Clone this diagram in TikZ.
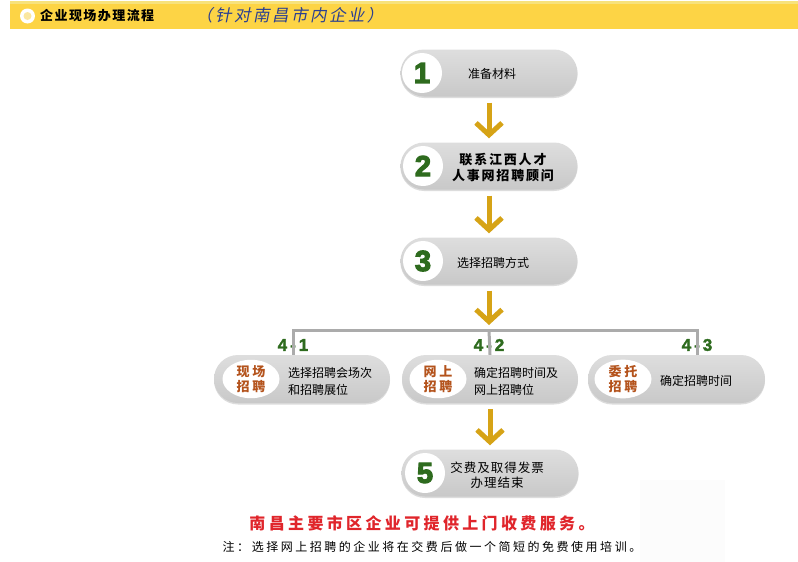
\documentclass[tikz,border=0pt]{standalone}
\usepackage{fontspec}
\usetikzlibrary{arrows.meta,shadows,shapes.geometric}
\newfontfamily\cjk{Noto Sans CJK SC}
\newfontfamily\cjkslant{Noto Sans CJK SC}[FakeSlant=0.2]
\newfontfamily\numfont{Liberation Sans}[BoldFeatures={FakeBold=4}]
\newfontfamily\subfont{Liberation Sans}[BoldFeatures={FakeBold=2}]
\definecolor{hdr}{HTML}{FDD445}
\definecolor{hdrtop}{HTML}{F7E27C}
\definecolor{iconin}{HTML}{FBE7A0}
\definecolor{hblue}{HTML}{2B3F91}
\definecolor{pillc}{HTML}{DADADA}
\definecolor{numg}{HTML}{2E6B1E}
\definecolor{gold}{HTML}{D6A316}
\definecolor{lgray}{HTML}{ABABAB}
\definecolor{orng}{HTML}{B4531C}
\definecolor{redt}{HTML}{E0252B}
\definecolor{faint}{HTML}{FCFCFC}
\tikzset{
  pill/.style={rectangle, rounded corners=23.5pt, minimum width=177pt, minimum height=47pt,
    inner sep=0pt, top color=pillc!90!white, bottom color=pillc!92!black,
    drop shadow={shadow xshift=0pt, shadow yshift=-1.5pt, fill=black!30, opacity=0.45}},
  numcirc/.style={circle, fill=white, minimum size=40pt, inner sep=0pt,
    font=\numfont\bfseries\fontsize{29}{29}\selectfont, text=numg},
  labell/.style={ellipse, fill=white, minimum width=57pt, minimum height=38pt, inner sep=0pt,
    font=\cjk\bfseries\fontsize{13}{15}\selectfont, text=orng, align=center},
  ptext/.style={font=\cjk\fontsize{12}{15}\selectfont, inner sep=0pt, align=center},
  ptextb/.style={font=\cjk\bfseries\addfontfeatures{LetterSpace=14}\fontsize{13}{16}\selectfont, inner sep=0pt, align=center},
  desc/.style={font=\cjk\fontsize{12}{17}\selectfont, inner sep=0pt, align=left, anchor=west},
  flowarrow/.style={draw=gold, line width=5pt, -{Straight Barb[length=12pt,width=26pt]}},
  branchline/.style={draw=lgray, line width=3pt},
  sublabel/.style={font=\subfont\bfseries\fontsize{17}{17}\selectfont, text=numg, inner sep=0pt}
}
\begin{document}
\begin{tikzpicture}[x=1pt,y=-1pt]
\useasboundingbox (0,0) rectangle (798,562);
\fill[white] (0,0) rectangle (798,562);
% header
\fill[hdr] (10,1) rectangle (798,29);
\fill[hdrtop] (10,1) rectangle (798,3.5);
\node[circle, fill=white, minimum size=15pt, inner sep=0pt] (ic) at (27.5,16) {};
\node[circle, fill=iconin, minimum size=8pt, inner sep=0pt] (ici) at (ic.center) {};
\node[anchor=west, inner sep=0pt, font=\cjk\bfseries\addfontfeatures{LetterSpace=11}\fontsize{13}{13}\selectfont] (h1) at (40,16) {企业现场办理流程};
\node[anchor=west, inner sep=0pt, text=hblue, font=\cjkslant\addfontfeatures{LetterSpace=15}\fontsize{16.5}{17}\selectfont] (h2) at (196,15) {（针对南昌市内企业）};
% faint patch
\fill[faint] (640,480) rectangle (725,562);
% main pills
\node[pill] (p1) at (489,73) {};
\node[pill] (p2) at (489,166) {};
\node[pill] (p3) at (489,261) {};
\node[pill] (p5) at (490,473) {};
\node[pill, minimum width=176pt, minimum height=48pt, rounded corners=24pt] (p41) at (302,379) {};
\node[pill, minimum width=176pt, minimum height=48pt, rounded corners=24pt] (p42) at (490,379) {};
\node[pill, minimum width=177pt, minimum height=48pt, rounded corners=24pt] (p43) at (676.5,379) {};
% numbers
\node[numcirc] (n1) at (422,73) {1};
\node[numcirc] (n2) at (423,166) {2};
\node[numcirc] (n3) at (423,261) {3};
\node[numcirc] (n5) at (425,473) {5};
% pill texts
\node[ptext] (t1) at (492,74) {准备材料};
\node[ptextb] (t2) at (503,168) {联系江西人才\\人事网招聘顾问};
\node[ptext] (t3) at (493,263) {选择招聘方式};
\node[ptextb, font=\cjk\addfontfeatures{LetterSpace=8}\fontsize{12.5}{15}\selectfont] (t5) at (497,475) {交费及取得发票\\办理结束};
% sub labels
\node[labell] (e41) at (251,379) {现\hspace{3pt}场\\招\hspace{3pt}聘};
\node[labell] (e42) at (438,379) {网\hspace{3pt}上\\招\hspace{3pt}聘};
\node[labell] (e43) at (623,379) {委\hspace{3pt}托\\招\hspace{3pt}聘};
\node[desc] (d41) at (288,381) {选择招聘会场次\\和招聘展位};
\node[desc] (d42) at (474,381) {确定招聘时间及\\网上招聘位};
\node[desc] (d43) at (660,381) {确定招聘时间};
% branch
\coordinate (b41) at (293,330);
\coordinate (b42) at (489,330);
\coordinate (b43) at (697,330);
\node[sublabel] (l41) at (293,345) {4\hspace{3pt}-\hspace{3pt}1};
\node[sublabel] (l42) at (489,345) {4\hspace{3pt}-\hspace{3pt}2};
\node[sublabel] (l43) at (697,345) {4\hspace{3pt}-\hspace{3pt}3};
\draw[branchline] (b41 |- p41.north) -- (b41) -- (b43) -- (b43 |- p43.north);
\draw[branchline] (b42) -- (p42.north);
% arrows
\draw[flowarrow, shorten <=6pt, shorten >=4pt] (p1.south) -- (p2.north);
\draw[flowarrow, shorten <=6pt, shorten >=4pt] (p2.south) -- (p3.north);
\draw[flowarrow, shorten <=6pt, shorten >=5pt] (p3.south) -- (b42);
\draw[flowarrow, shorten <=6pt, shorten >=4pt] (p42.south) -- (p5.north);
% bottom texts
\node[inner sep=0pt, text=redt, font=\cjk\bfseries\addfontfeatures{LetterSpace=21}\fontsize{16}{16}\selectfont] (red) at (422,523) {南昌主要市区企业可提供上门收费服务。};
\node[inner sep=0pt, font=\cjk\addfontfeatures{LetterSpace=21}\fontsize{12}{12}\selectfont] (note) at (432,547) {注：选择网上招聘的企业将在交费后做一个简短的免费使用培训。};
\end{tikzpicture}
\end{document}
